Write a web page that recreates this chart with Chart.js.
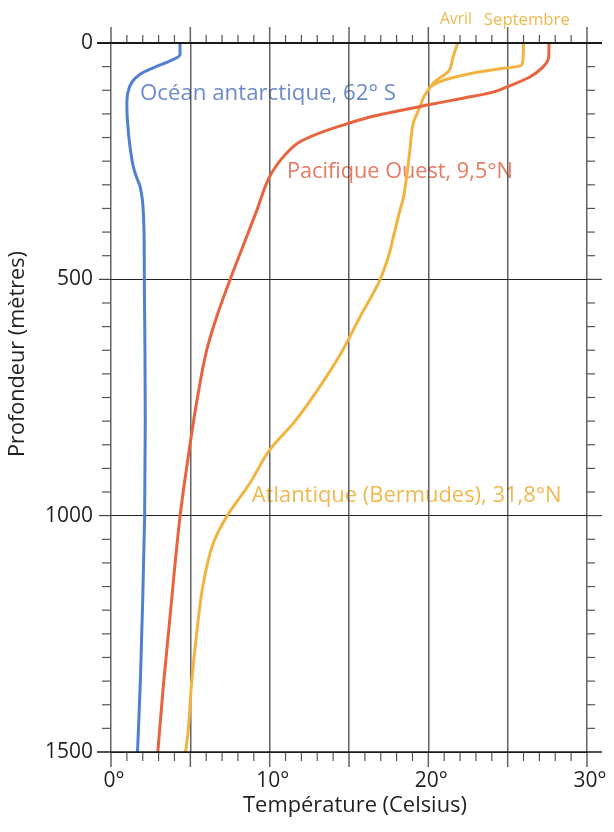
<!DOCTYPE html>
<html><head><meta charset="utf-8">
<script src="https://cdn.jsdelivr.net/npm/chart.js@4.4.1/dist/chart.umd.min.js"></script>
<style>html,body{margin:0;padding:0;background:#fff}#wrap{width:614px;height:832px;position:relative}</style>
</head><body><div id="wrap"><canvas id="c" width="614" height="832"></canvas></div>
<script>
// ---- data (temperature °C vs depth m) ----
const xLabelValues = [0, 10, 20, 30];
const yLabelValues = [0, 500, 1000, 1500];

const antarcticDepth = [0, 25, 38, 51, 66, 83, 104, 131, 170, 220, 262, 285, 300, 330, 360, 420, 500, 650, 800, 1000, 1200, 1350, 1500];
const antarcticTemp  = [4.35, 4.35, 3.72, 2.77, 1.83, 1.32, 1.07, 1.0, 1.05, 1.2, 1.41, 1.62, 1.8, 1.97, 2.04, 2.09, 2.1, 2.14, 2.16, 2.12, 1.98, 1.85, 1.67];

const pacificDepth = [0, 20, 36, 51, 72, 93, 104, 117, 130, 143, 154, 171, 190, 209, 237, 264, 290, 353, 410, 501, 579, 650, 750, 861, 1002, 1214, 1360, 1500];
const pacificTemp  = [27.6, 27.6, 27.54, 27.22, 26.4, 24.95, 24.07, 22.18, 20.1, 18.21, 16.64, 14.87, 13.17, 11.91, 10.96, 10.33, 9.89, 9.2, 8.55, 7.5, 6.66, 6.03, 5.45, 4.93, 4.35, 3.72, 3.3, 2.95];

const atlAprDepth = [0, 30, 61, 72, 82, 92, 99, 115, 135, 170, 226, 283, 332, 353, 403, 450, 501, 540, 579, 650, 720, 800, 861, 931, 1002, 1058, 1143, 1249, 1354, 1460, 1500];
const atlAprTemp  = [21.85, 21.55, 21.25, 20.8, 20.4, 20.15, 20.0, 19.7, 19.47, 19.05, 18.84, 18.63, 18.4, 18.22, 17.85, 17.5, 16.95, 16.35, 15.7, 14.6, 13.3, 11.6, 10.0, 8.76, 7.29, 6.45, 5.82, 5.4, 5.08, 4.85, 4.7];

const atlSepDepth = [0, 25, 46, 50, 56, 63, 72, 82, 92];
const atlSepTemp  = [26.0, 25.98, 25.9, 25.55, 24.2, 22.9, 21.7, 20.7, 20.15];

const toPts = (temps, depths) => temps.map((t, i) => ({ x: t, y: depths[i] }));

// ---- styles ----
const FONT = "'Open Sans', 'Noto Sans', sans-serif";
const BLUE = '#5080d0', RED = '#e8643e', YEL = '#f2b440';
const GRID = 'rgba(70,70,70,0.85)';

const seriesLabels = [
  { text: 'Océan antarctique, 62° S', color: '#6a8bcb', t: 1.83, d: 108, w: 256, align: 'left' },
  { text: 'Pacifique Ouest, 9,5°N', color: '#e67a62', t: 11.09, d: 273, w: 226, align: 'left' },
  { text: 'Atlantique (Bermudes), 31,8°N', color: '#f0b84e', t: 8.87, d: 958, w: 310, align: 'left' },
  { text: 'Avril', color: '#f0b84e', t: 21.74, d: -49, w: 32, align: 'center' },
  { text: 'Septembre', color: '#f0b84e', t: 23.5, d: -49, w: 86, align: 'left' }
];

function fitSize(ctx, text, w) {
  ctx.font = '20px ' + FONT;
  return 20 * w / ctx.measureText(text).width;
}

const decor = {
  id: 'decor',
  beforeDraw(chart) {
    const { ctx, scales: { x, y } } = chart;
    ctx.save();
    ctx.textBaseline = 'middle';
    seriesLabels.forEach(l => {
      const s = fitSize(ctx, l.text, l.w);
      ctx.font = s.toFixed(2) + 'px ' + FONT;
      ctx.fillStyle = l.color;
      ctx.textAlign = l.align;
      ctx.fillText(l.text, x.getPixelForValue(l.t), y.getPixelForValue(l.d));
    });
    // axis titles
    ctx.fillStyle = '#231f20';
    ctx.textAlign = 'center';
    let s = fitSize(ctx, 'Température (Celsius)', 224);
    ctx.font = s.toFixed(2) + 'px ' + FONT;
    ctx.fillText('Température (Celsius)', 355, 806);
    s = fitSize(ctx, 'Profondeur (mètres)', 206);
    ctx.font = s.toFixed(2) + 'px ' + FONT;
    ctx.translate(18, 354);
    ctx.rotate(-Math.PI / 2);
    ctx.fillText('Profondeur (mètres)', 0, 0);
    ctx.restore();
  },
  afterDraw(chart) {
    const { ctx, scales: { x, y } } = chart;
    const L = x.getPixelForValue(0), R = x.getPixelForValue(30);
    const T = y.getPixelForValue(0), B = y.getPixelForValue(1500);
    const seg = (a, b, c, d) => { ctx.beginPath(); ctx.moveTo(a, b); ctx.lineTo(c, d); ctx.stroke(); };
    ctx.save();
    // vertical major line extensions
    ctx.strokeStyle = GRID; ctx.lineWidth = 1.5;
    for (let v = 0; v <= 30; v += 5) {
      const p = x.getPixelForValue(v);
      seg(p, T - 16, p, T); seg(p, B, p, B + 15);
    }
    // minor x ticks
    ctx.strokeStyle = '#555'; ctx.lineWidth = 1.2;
    for (let v = 1; v < 30; v++) {
      if (v % 5 === 0) continue;
      const p = x.getPixelForValue(v);
      seg(p, T - 8, p, T); seg(p, B, p, B + 9);
    }
    // minor y ticks
    for (let v = 50; v < 1500; v += 50) {
      if (v % 500 === 0) continue;
      const p = y.getPixelForValue(v);
      seg(L - 9, p, L, p); seg(R, p, R + 8, p);
    }
    // major horizontal extensions
    ctx.strokeStyle = '#222'; ctx.lineWidth = 1;
    [500, 1000].forEach(v => { const p = y.getPixelForValue(v); seg(L - 12, p, L, p); seg(R, p, R + 15, p); });
    // top & bottom axis lines
    ctx.strokeStyle = '#1a1a1a'; ctx.lineWidth = 2;
    seg(L - 14, T, R + 15, T);
    ctx.lineWidth = 1.5;
    seg(L - 14, B, R + 15, B);
    ctx.restore();
  }
};

const ds = (label, pts, color) => ({
  label, data: pts, borderColor: color, borderWidth: 3, pointRadius: 0,
  fill: false, cubicInterpolationMode: 'monotone', borderCapStyle: 'butt', borderJoinStyle: 'round'
});

new Chart(document.getElementById('c'), {
  type: 'line',
  data: {
    datasets: [
      ds('Océan antarctique, 62° S', toPts(antarcticTemp, antarcticDepth), BLUE),
      ds('Pacifique Ouest, 9,5°N', toPts(pacificTemp, pacificDepth), RED),
      ds('Atlantique (Bermudes) – Avril', toPts(atlAprTemp, atlAprDepth), YEL),
      ds('Atlantique (Bermudes) – Septembre', toPts(atlSepTemp, atlSepDepth), YEL)
    ]
  },
  options: {
    indexAxis: 'y',
    responsive: false,
    animation: false,
    devicePixelRatio: 1,
    layout: { padding: { top: 43, right: 27, left: 0, bottom: 0 } },
    plugins: { legend: { display: false }, tooltip: { enabled: false } },
    scales: {
      x: {
        type: 'linear', position: 'bottom', min: 0, max: 30,
        afterFit: s => { s.height = 80; s.paddingLeft = 0; s.paddingRight = 0; },
        ticks: {
          stepSize: 5, autoSkip: false, padding: 16, labelOffset: 3,
          color: '#231f20', font: { family: FONT, size: 21 },
          callback: v => xLabelValues.includes(v) ? v + '°' : ''
        },
        grid: { color: GRID, lineWidth: 1.5, drawTicks: false },
        border: { display: false }
      },
      y: {
        type: 'linear', position: 'left', min: 0, max: 1500, reverse: true,
        afterFit: s => { s.width = 111; s.paddingTop = 0; s.paddingBottom = 0; },
        ticks: {
          stepSize: 500, autoSkip: false, padding: 18,
          color: '#231f20', font: { family: FONT, size: 21 },
          callback: v => yLabelValues.includes(v) ? String(v) : ''
        },
        grid: { color: '#222', lineWidth: 1, drawTicks: false },
        border: { display: false }
      }
    }
  },
  plugins: [decor]
});
</script>
</body></html>
